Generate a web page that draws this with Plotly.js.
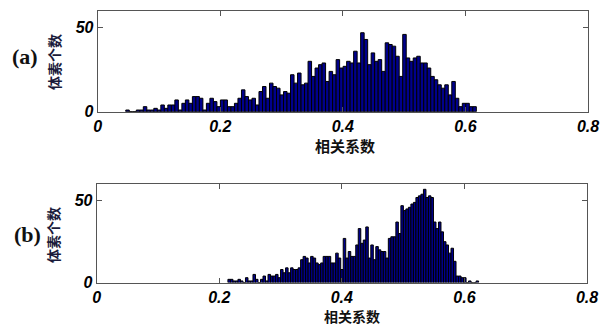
<!DOCTYPE html>
<html>
<head>
<meta charset="utf-8">
<script src="https://cdn.plot.ly/plotly-3.0.1.min.js"></script>
<style>
  html, body { margin: 0; padding: 0; background: #fff; }
  #chart { width: 606px; height: 326px; }
</style>
</head>
<body>
<div id="chart"></div>
<script>
// ---- data ----
// (a) histogram: 100 bins of correlation coefficient, voxel counts
const countsA = [1,0,0,1,1,3,1,1,2,1,4,2,4,4,7,1,5,7,5,9,9,8,1,5,8,6,3,7,7,3,3,5,8,
  13,9,7,8,4,12,15,8,17,15,14,10,12,11,22,17,23,16,17,30,21,26,28,29,18,24,22,31,26,27,30,29,36,29,
  47,43,28,35,30,31,24,41,40,39,33,21,46,32,30,32,33,29,29,26,21,19,16,14,16,10,18,8,3,5,5,3,3];
const binStartA = 0.0458;   // left edge of first bin
const binWidthA = 0.00572;

// (b) histogram
const countsB = [2,2,1,1,2,1,0,3,1,1,5,2,0,2,4,1,5,4,4,5,3,8,6,9,6,9,8,8,9,14,16,15,12,
  16,15,12,11,12,16,16,16,12,12,18,15,8,27,15,19,16,16,23,33,24,26,34,15,23,14,22,20,19,19,15,27,28,28,
  37,30,47,44,45,46,48,49,52,53,54,57,52,53,52,37,33,37,31,25,23,18,21,13,4,4,3,3,0,1,0,0,1];
const binStartB = 0.2141;
const binWidthB = 0.00409;

const xTickVals = [0, 0.2, 0.4, 0.6, 0.8];
const xTickText = ['0', '0.2', '0.4', '0.6', '0.8'];
const yTickVals = [0, 50];
const yTickText = ['0', '50'];

const xTitle = '相关系数';
const yTitle = '体素个数';
const panelLabels = ['(a)', '(b)'];

// ---- styles ----
const barFill = '#00008c';
const tickFont = {family: 'Liberation Sans, Arial, sans-serif', size: 16, weight: 'bold', style: 'italic', color: '#000'};
const axisCommon = {
  showline: true, linecolor: '#555', linewidth: 1, mirror: 'ticks',
  ticks: 'inside', ticklen: 5, tickcolor: '#555', tickwidth: 1,
  showgrid: false, zeroline: false, tickfont: tickFont, fixedrange: true
};

const traces = [
  {type: 'bar', x0: binStartA + binWidthA / 2, dx: binWidthA, y: countsA,
   xaxis: 'x', yaxis: 'y', marker: {color: barFill, line: {color: '#000', width: 1}},
   hoverinfo: 'skip', showlegend: false},
  {type: 'bar', x0: binStartB + binWidthB / 2, dx: binWidthB, y: countsB,
   xaxis: 'x2', yaxis: 'y2', marker: {color: barFill, line: {color: '#000', width: 1}},
   hoverinfo: 'skip', showlegend: false}
];

const W = 606, H = 326;
const px = v => v / W;
const py = v => 1 - v / H;

const cjk = 'Noto Sans CJK SC, sans-serif';
const layout = {
  width: W, height: H,
  margin: {l: 0, r: 0, t: 0, b: 0},
  paper_bgcolor: '#fff', plot_bgcolor: '#fff',
  bargap: 0, showlegend: false,
  xaxis: Object.assign({}, axisCommon, {domain: [px(97.7), px(588)], anchor: 'y', range: [0, 0.8], tickvals: xTickVals, ticktext: xTickText}),
  yaxis: Object.assign({}, axisCommon, {domain: [py(111.7), py(10.9)], anchor: 'x', range: [0, 60], tickvals: yTickVals, ticktext: yTickText}),
  xaxis2: Object.assign({}, axisCommon, {domain: [px(96.7), px(587)], anchor: 'y2', range: [0, 0.8], tickvals: xTickVals, ticktext: xTickText}),
  yaxis2: Object.assign({}, axisCommon, {domain: [py(282.6), py(184.4)], anchor: 'x2', range: [0, 60], tickvals: yTickVals, ticktext: yTickText}),
  annotations: [
    {text: panelLabels[0], xref: 'paper', yref: 'paper', x: px(25), y: py(56), xanchor: 'center', yanchor: 'middle', showarrow: false,
     font: {family: 'Liberation Serif, serif', size: 22, weight: 'bold', color: '#111'}},
    {text: panelLabels[1], xref: 'paper', yref: 'paper', x: px(27), y: py(234), xanchor: 'center', yanchor: 'middle', showarrow: false,
     font: {family: 'Liberation Serif, serif', size: 22, weight: 'bold', color: '#111'}},
    {text: yTitle, xref: 'paper', yref: 'paper', x: px(54), y: py(62), xanchor: 'center', yanchor: 'middle', showarrow: false, textangle: -90,
     font: {family: cjk, size: 14, weight: 'bold', color: '#1a1a3a'}},
    {text: yTitle, xref: 'paper', yref: 'paper', x: px(53), y: py(235), xanchor: 'center', yanchor: 'middle', showarrow: false, textangle: -90,
     font: {family: cjk, size: 14, weight: 'bold', color: '#1a1a3a'}},
    {text: xTitle, xref: 'paper', yref: 'paper', x: px(345), y: py(145), xanchor: 'center', yanchor: 'middle', showarrow: false,
     font: {family: cjk, size: 15, weight: 'bold', color: '#111'}},
    {text: xTitle, xref: 'paper', yref: 'paper', x: px(352), y: 0, xanchor: 'center', yanchor: 'bottom', yshift: -2, showarrow: false,
     font: {family: cjk, size: 14, weight: 'bold', color: '#111'}}
  ]
};

Plotly.newPlot('chart', traces, layout, {staticPlot: true, displayModeBar: false});
</script>
</body>
</html>
